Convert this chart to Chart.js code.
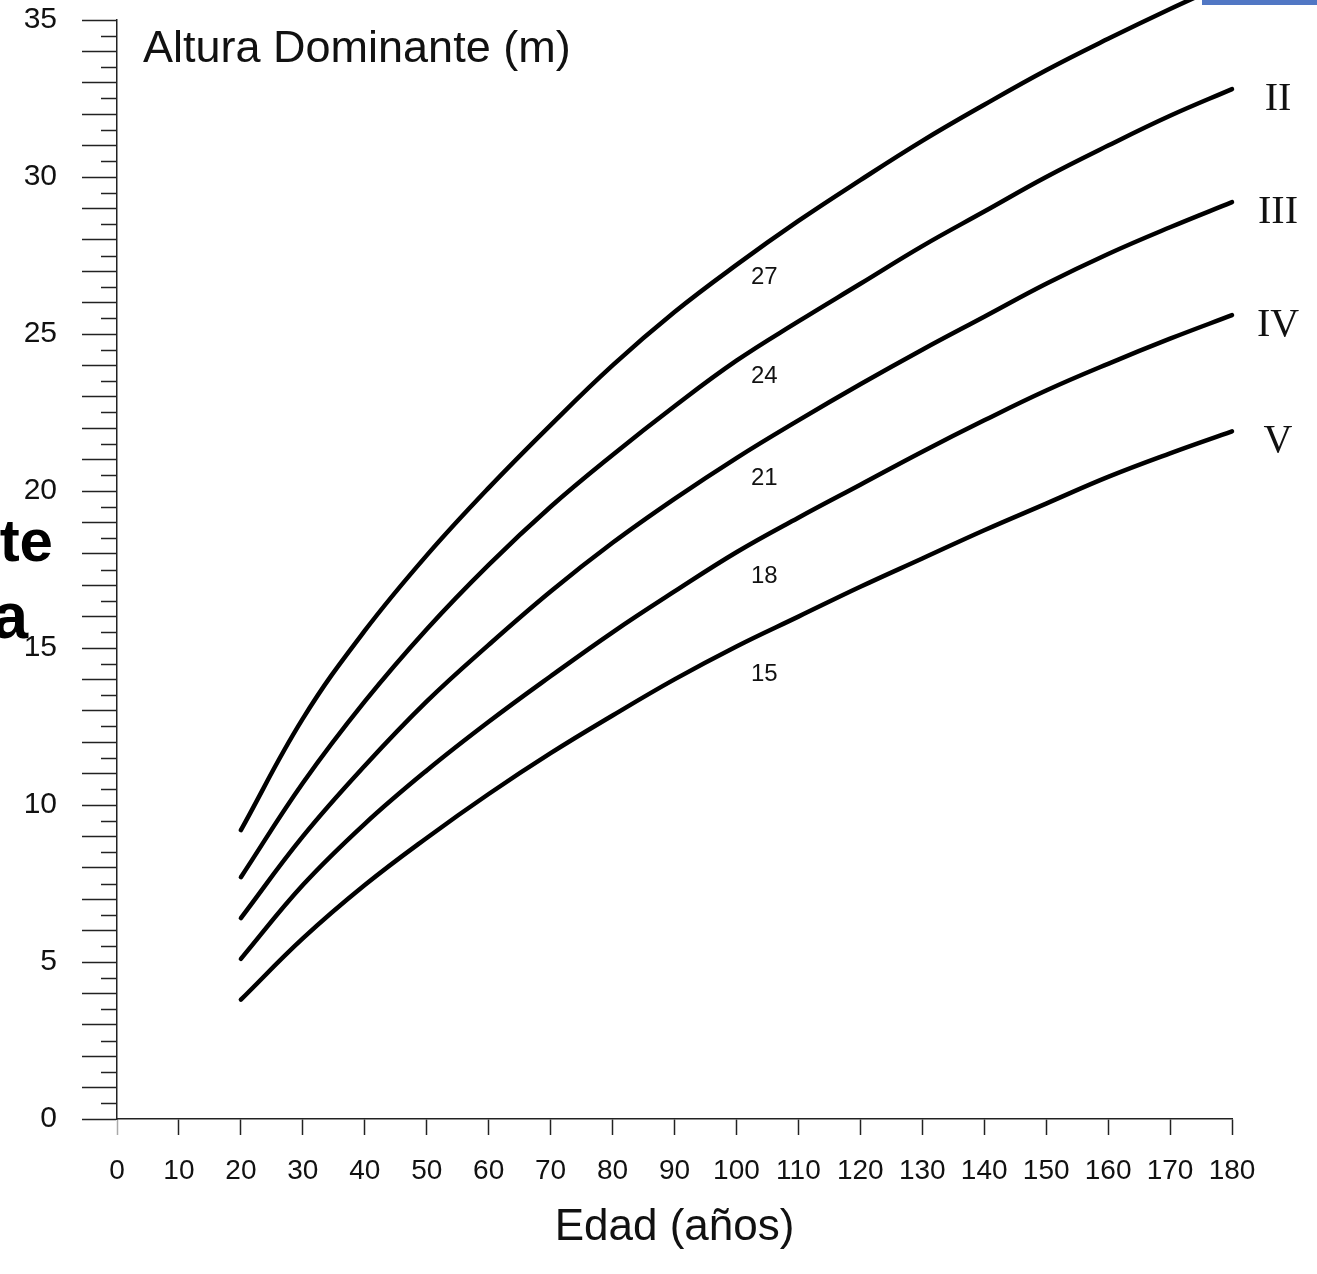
<!DOCTYPE html>
<html><head><meta charset="utf-8">
<script src="https://cdn.jsdelivr.net/npm/chart.js@4.4.1/dist/chart.umd.min.js"></script>
<style>
html,body{margin:0;padding:0;background:#fff;overflow:hidden;}
#wrap{position:relative;width:1317px;height:1274px;background:#fff;}
canvas{position:absolute;left:0;top:0;}
.frag{position:absolute;font-family:"Liberation Sans",Arial,sans-serif;font-weight:bold;color:#000;text-align:right;white-space:nowrap;line-height:1;}
#bar{position:absolute;left:1202px;top:0;width:115px;height:5px;background:#5177c4;}
</style></head><body>
<div id="wrap">
<canvas id="c" width="1317" height="1274"></canvas>
<div class="frag" style="left:-200px;width:253px;top:511px;font-size:60px;">te</div>
<div class="frag" style="left:-200px;width:228px;top:584px;font-size:64px;">a</div>
<div id="bar"></div>
</div>
<script>
const ages = [20,30,40,50,60,70,80,90,100,110,120,130,140,150,160,170,180];
const curveI   = [9.2,12.75,15.55,17.95,20.1,22.1,24.0,25.7,27.2,28.6,29.9,31.15,32.3,33.4,34.4,35.35,36.25];
const curveII  = [7.7,10.7,13.3,15.6,17.65,19.5,21.15,22.7,24.15,25.4,26.6,27.8,28.9,30.0,31.0,31.95,32.8];
const curveIII = [6.4,9.0,11.25,13.3,15.1,16.8,18.35,19.75,21.05,22.25,23.4,24.5,25.55,26.6,27.55,28.4,29.2];
const curveIV  = [5.1,7.45,9.4,11.1,12.65,14.1,15.5,16.8,18.05,19.15,20.2,21.25,22.25,23.2,24.05,24.85,25.6];
const curveV   = [3.8,5.75,7.45,8.95,10.35,11.65,12.85,14.0,15.05,16.0,16.95,17.85,18.75,19.6,20.45,21.2,21.9];
const classLabels = ['I','II','III','IV','V'];
const siLabels = ['27','24','21','18','15'];
const xTickLabels = [0,10,20,30,40,50,60,70,80,90,100,110,120,130,140,150,160,170,180];
const yTickLabels = [0,5,10,15,20,25,30,35];
const yTitle = 'Altura Dominante (m)';
const xTitle = 'Edad (años)';

const series = [curveI, curveII, curveIII, curveIV, curveV];
const SANS = '"Liberation Sans", Arial, sans-serif';

const annot = {
  id:'annot',
  afterDraw(chart){
    const {ctx, chartArea, scales:{x, y}} = chart;
    ctx.save();
    ctx.strokeStyle = '#222'; ctx.lineWidth = 1.5;
    for (let v = 0.5; v < 35; v += 1) {
      const py = Math.round(y.getPixelForValue(v)) + 0.5;
      ctx.beginPath(); ctx.moveTo(chartArea.left - 16, py); ctx.lineTo(chartArea.left, py); ctx.stroke();
    }
    ctx.fillStyle = '#111';
    ctx.font = '45px ' + SANS; ctx.textAlign = 'left'; ctx.textBaseline = 'alphabetic';
    ctx.fillText(yTitle, 143, 62);
    ctx.font = '24px ' + SANS; ctx.textAlign = 'center'; ctx.textBaseline = 'middle';
    const i100 = ages.indexOf(100);
    series.forEach((s, i) => {
      ctx.fillText(siLabels[i], x.getPixelForValue(104.5), y.getPixelForValue(s[i100]) + 12 + 4 * i);
    });
    ctx.font = '40px "Liberation Serif", "Times New Roman", serif';
    series.forEach((s, i) => {
      const py = y.getPixelForValue(s[s.length - 1]) + 10;
      if (py < 14) return;
      ctx.fillText(classLabels[i], x.getPixelForValue(180) + 46, py);
    });
    ctx.restore();
  }
};

function zeroPad(s){ s.paddingTop = 0; s.paddingBottom = 0; s.paddingLeft = 0; s.paddingRight = 0; }

new Chart(document.getElementById('c'), {
  type: 'line',
  data: {
    datasets: series.map((s, i) => ({
      label: classLabels[i],
      data: ages.map((a, k) => ({x: a, y: s[k]})),
      borderColor: '#000', borderWidth: 4.5, pointRadius: 0,
      tension: 0.4, fill: false, clip: false,
      borderCapStyle: 'round', borderJoinStyle: 'round'
    }))
  },
  options: {
    responsive: false, animation: false, devicePixelRatio: 1,
    layout: {padding: {top: 20, right: 85, bottom: 0, left: 0}},
    plugins: {legend: {display: false}, tooltip: {enabled: false}},
    scales: {
      x: {
        type: 'linear', min: 0, max: 180,
        afterFit(s){ s.height = 155; zeroPad(s); },
        afterBuildTicks(s){ s.ticks = xTickLabels.map(v => ({value: v})); },
        ticks: {autoSkip: false, maxRotation: 0, minRotation: 0, padding: 19, color: '#111', font: {family: SANS, size: 28}},
        grid: {drawOnChartArea: false, drawTicks: true, tickLength: 16,
               tickColor: c => (c.tick && c.tick.value === 0) ? '#aaa' : '#222', tickWidth: 1.5},
        border: {display: true, color: '#222', width: 1.5},
        title: {display: true, text: xTitle, color: '#111', font: {family: SANS, size: 44}, padding: {top: 0, bottom: 20}}
      },
      y: {
        type: 'linear', min: 0, max: 35,
        afterFit(s){ s.width = 117; zeroPad(s); },
        ticks: {stepSize: 0.5, autoSkip: false, padding: 25, color: '#111', font: {family: SANS, size: 30},
                callback: v => yTickLabels.includes(v) ? String(v) : ''},
        grid: {drawOnChartArea: false, drawTicks: true, tickLength: 35,
               tickColor: c => (c.tick && Number.isInteger(c.tick.value)) ? '#222' : 'rgba(0,0,0,0)', tickWidth: 1.5},
        border: {display: true, color: '#222', width: 1.5}
      }
    }
  },
  plugins: [annot]
});
</script>
</body></html>
